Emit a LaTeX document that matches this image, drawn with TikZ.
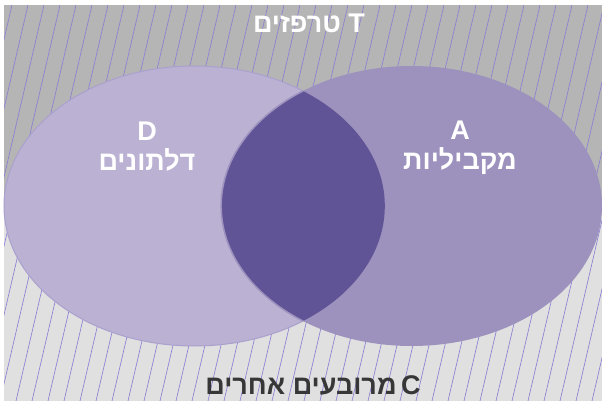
\documentclass[tikz,border=0pt]{standalone}
\usepackage{fontspec}
\setmainfont{Liberation Sans}
\newfontfamily\hebfont[Script=Hebrew]{Liberation Sans}
\TeXXeTstate=1
\usepackage{xcolor}
\definecolor{cvtop}{RGB}{181, 181, 181}
\definecolor{cvbottom}{RGB}{224, 224, 224}
\definecolor{cvhatch}{RGB}{138, 128, 212}
\definecolor{cvleft}{RGB}{186, 177, 211}
\definecolor{cvleftedge}{RGB}{171, 160, 206}
\definecolor{cvright}{RGB}{157, 145, 189}
\definecolor{cvboth}{RGB}{96, 83, 150}
\definecolor{cvtext}{RGB}{55, 55, 55}
\usepackage{tikz}

\tikzset{
  setlabel/.style={
    font=\hebfont\bfseries\fontsize{27}{30}\selectfont,
    text=white,
    align=center,
    inner sep=0pt
  }
}

\begin{document}
\begin{tikzpicture}[x=1pt, y=-1pt]
    \useasboundingbox (0,0) rectangle (602,401);
    \fill[cvtop] (4,5) rectangle (602,205);
    \fill[cvbottom] (4,205) rectangle (602,401);
    \begin{scope}
      \clip (4,5) rectangle (602,401);
      \foreach \x in {-96,-80,...,608}
        \draw[cvhatch, line width=0.65pt] (\x,401) -- ++(92,-396);
    \end{scope}
    \fill[cvleft, draw=cvleftedge, line width=1pt]
      (194.4,206) ellipse [x radius=190.4, y radius=140];
    \fill[cvright]
      (411.6,206) ellipse [x radius=190.4, y radius=140];
    \begin{scope}
      \clip (194.4,206) ellipse [x radius=190.4, y radius=140];
      \fill[cvboth, draw=cvright, line width=1.5pt]
        (411.6,206) ellipse [x radius=190.4, y radius=140];
    \end{scope}
    \node[setlabel] (trap) at (309,23) {\beginR T טרפזים\endR};
    \node[setlabel] (kite) at (147,147) {D\\\beginR דלתונים\endR};
    \node[setlabel] (para) at (460,148) {A\\\beginR מקביליות\endR};
    \node[
      setlabel,
      text=cvtext
    ] (other) at (313,385) {\beginR C\,מרובעים אחרים\endR};
  \end{tikzpicture}
\end{document}
